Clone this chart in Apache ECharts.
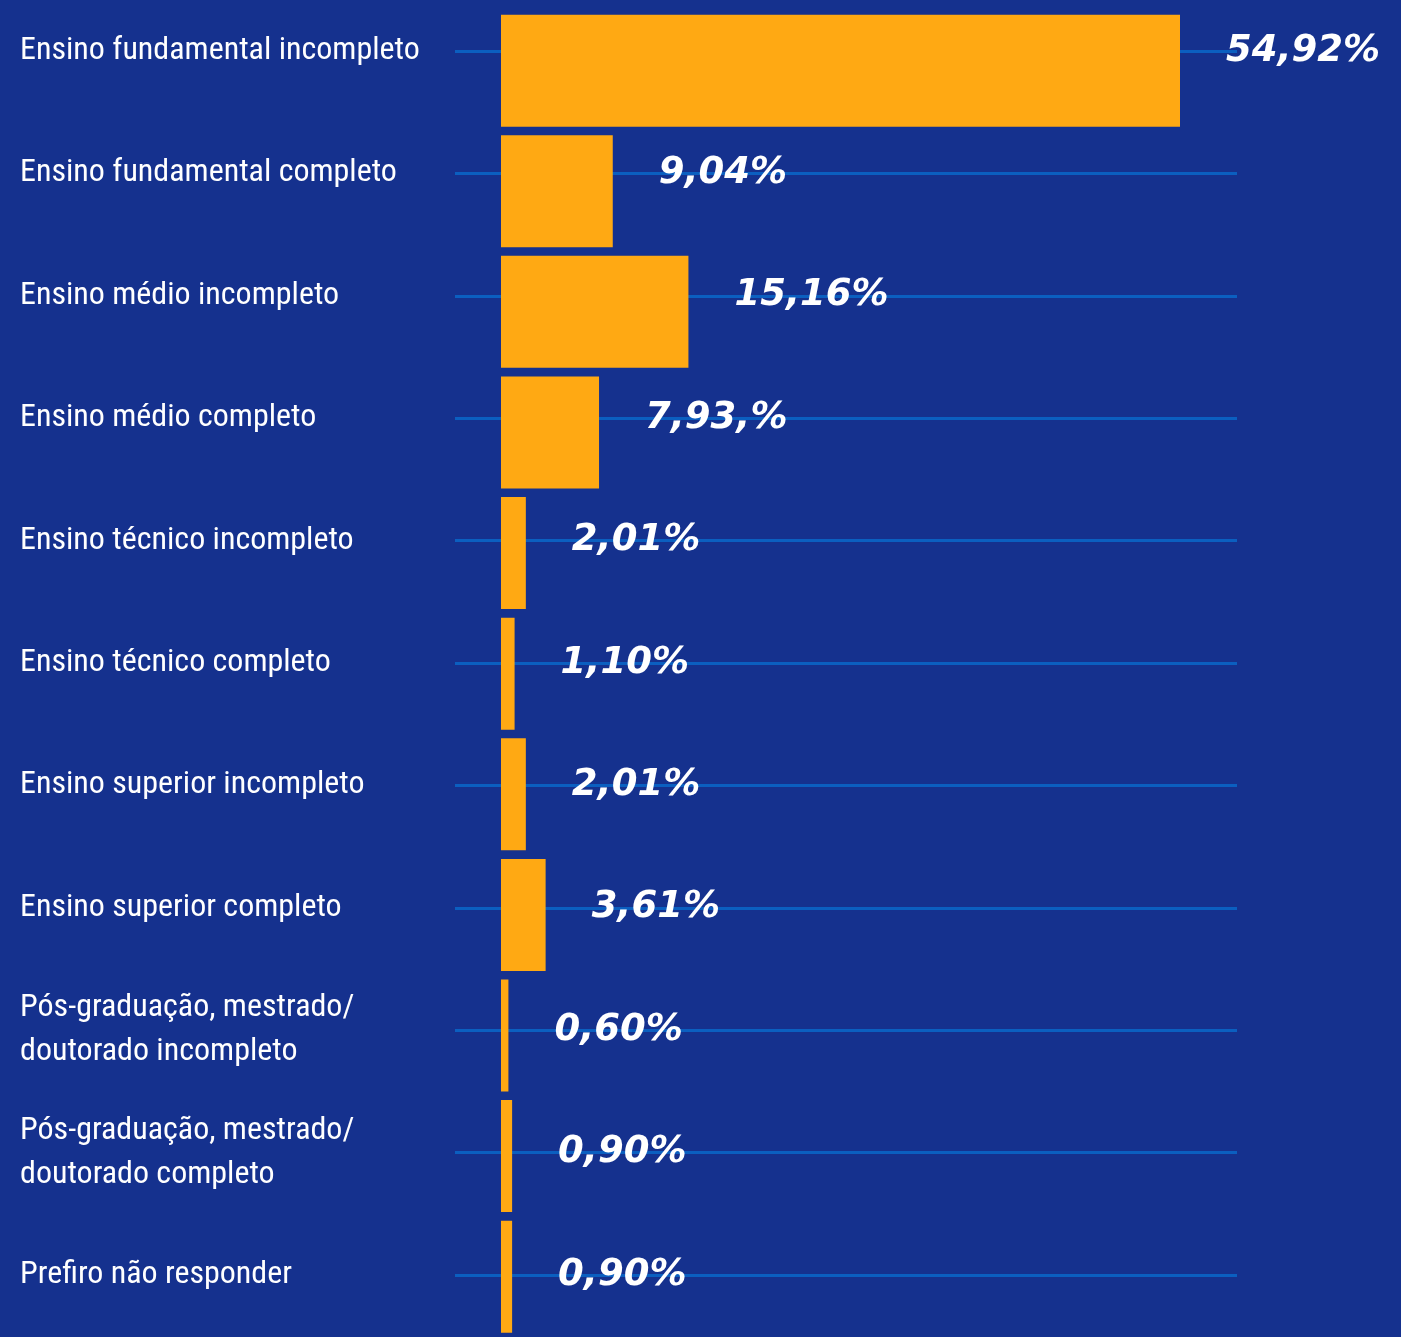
<!DOCTYPE html>
<html>
<head>
<meta charset="utf-8">
<style>
html,body{margin:0;padding:0;background:#15318e;}
#chart{width:1401px;height:1337px;}
</style>
<script src="https://cdn.jsdelivr.net/npm/echarts@6/dist/echarts.min.js"></script>
</head>
<body>
<div id="chart"></div>
<script>
const categories = [
  "Ensino fundamental incompleto",
  "Ensino fundamental completo",
  "Ensino médio incompleto",
  "Ensino médio completo",
  "Ensino técnico incompleto",
  "Ensino técnico completo",
  "Ensino superior incompleto",
  "Ensino superior completo",
  "Pós-graduação, mestrado/\ndoutorado incompleto",
  "Pós-graduação, mestrado/\ndoutorado completo",
  "Prefiro não responder"
];
const values = [54.92, 9.04, 15.16, 7.93, 2.01, 1.10, 2.01, 3.61, 0.60, 0.90, 0.90];
const valueLabels = ["54,92%", "9,04%", "15,16%", "7,93,%", "2,01%", "1,10%", "2,01%", "3,61%", "0,60%", "0,90%", "0,90%"];

const xMin = -3.72, xMax = 59.53;
const chart = echarts.init(document.getElementById('chart'), null, {renderer: 'canvas'});
chart.setOption({
  backgroundColor: '#15318e',
  animation: false,
  grid: [
    {left: 455, width: 782, top: 10.35, height: 1334.3},
    {left: 455, width: 782, top: 51, height: 1224}
  ],
  xAxis: [
    {gridIndex: 0, type: 'value', min: xMin, max: xMax, show: false},
    {gridIndex: 1, type: 'value', min: xMin, max: xMax, show: false}
  ],
  yAxis: [
    {gridIndex: 0, type: 'category', data: categories, inverse: true, show: false},
    {gridIndex: 1, type: 'category', data: categories, inverse: true, boundaryGap: false,
     axisLine: {show: false}, axisTick: {show: false},
     splitLine: {show: true, interval: 0, lineStyle: {color: '#0b5fc0', width: 3}},
     axisLabel: {interval: 0, align: 'left', margin: 435, color: '#ffffff',
       fontFamily: '"Roboto Condensed", "Noto Sans Condensed", "Liberation Sans Narrow", "DejaVu Sans Condensed", sans-serif',
       fontSize: 32, lineHeight: 44}}
  ],
  series: [
    {type: 'bar', xAxisIndex: 0, yAxisIndex: 0, data: values, barWidth: 112,
     itemStyle: {color: '#ffa913'}, z: 3},
    {type: 'bar', xAxisIndex: 1, yAxisIndex: 1, data: values, barWidth: 2,
     itemStyle: {color: 'rgba(0,0,0,0)'}, z: 4,
     label: {show: true, position: 'right', distance: 46,
       formatter: p => valueLabels[p.dataIndex],
       color: '#ffffff', fontFamily: '"DejaVu Sans", sans-serif', fontWeight: 'bold',
       fontStyle: 'italic', fontSize: 37}}
  ]
});
</script>
</body>
</html>
